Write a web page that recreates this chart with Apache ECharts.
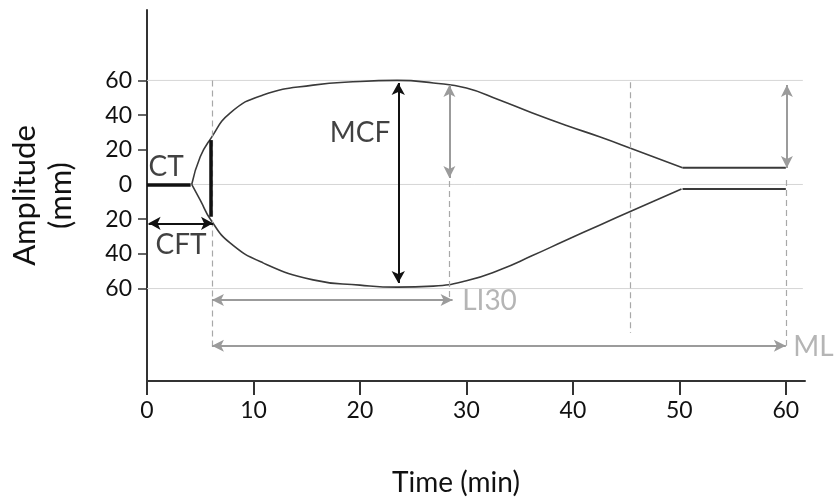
<!DOCTYPE html>
<html>
<head>
<meta charset="utf-8">
<title>Thromboelastogram</title>
<script src="https://cdn.jsdelivr.net/npm/echarts@6/dist/echarts.min.js"></script>
<style>
  html, body { margin: 0; padding: 0; background: #fff; }
  #chart { width: 838px; height: 497px; }
</style>
</head>
<body>
<div id="chart"></div>
<script>
// Axis ticks
const timeTicks = [0, 10, 20, 30, 40, 50, 60];
const ampTicks = [60, 40, 20, 0, -20, -40, -60];
const gridLevels = [60, 0, -60];

// Trace envelope (time in min, amplitude in mm)
const upperTime = [4.2, 5.0, 6.0, 7.8, 10.9, 15.6, 20.0, 23.5, 26.9, 30.0, 33.1, 36.2, 39.4, 42.5, 45.6, 50.3];
const upperAmp  = [0, 16, 26.6, 41.2, 51.6, 57.3, 59.4, 60, 58.5, 55.6, 48.7, 41.2, 34, 27.5, 20.5, 9.7];
const lowerTime = [4.2, 5.0, 6.0, 7.8, 10.9, 15.6, 20.0, 23.5, 26.9, 30.0, 33.1, 36.2, 39.4, 42.5, 45.6, 50.2];
const lowerAmp  = [0, -9, -20.5, -33.7, -45.2, -55, -58, -59.2, -58.6, -55.5, -49.3, -41, -32, -23.5, -15, -2.6];
// Residual clot after lysis
const tailTime = [50.3, 60];
const tailUpper = [9.7, 9.7];
const tailLower = [-2.6, -2.6];

// Key parameters
const ctTime = 4.1;          // reaction time
const cftTime = 6.0;         // clot formation time end
const cftAmp = 20;           // amplitude at which CFT is read
const mcfTime = 23.6;        // time of maximum clot firmness
const mcfUpper = 58.5;
const mcfLower = -56.8;
const li30Time = 28.4;       // 30 min after CT
const li30Amp = 57.3;
const lysisTime = 45.4;
const mlTime = 60;
const mlAmp = 9.5;

const FONT = 'Lato, "Open Sans", sans-serif';
const GREY = '#9b9b9b';
const DARK = '#111';

function pts(xs, ys) { return xs.map((x, i) => [x, ys[i]]); }
function seg(x1, y1, x2, y2) { return [{ coord: [x1, y1] }, { coord: [x2, y2] }]; }

const chart = echarts.init(document.getElementById('chart'), null, { renderer: 'canvas' });

const gridSeries = gridLevels.map(v => ({
  type: 'line', silent: true, symbol: 'none', z: 1,
  lineStyle: { color: '#d6d6d6', width: 1 },
  data: [[0, v], [61.6, v]]
}));

const envelope = (data) => ({
  type: 'line', smooth: 0.5, symbol: 'none', z: 4,
  lineStyle: { color: '#3a3a3a', width: 1.6 },
  data
});

const option = {
  animation: false,
  backgroundColor: '#fff',
  textStyle: { fontFamily: FONT },
  grid: { left: 147, right: 33, top: 10, bottom: 116, containLabel: false, outerBoundsMode: 'none' },
  xAxis: {
    type: 'value', min: 0, max: 61.8,
    name: 'Time (min)', nameLocation: 'middle', nameGap: 88,
    nameTextStyle: { fontSize: 28, color: DARK, fontFamily: FONT, padding: [0, 40, 0, 0] },
    axisLine: { onZero: false, lineStyle: { color: '#333', width: 2 } },
    axisTick: { customValues: timeTicks, length: 14, lineStyle: { color: '#333', width: 2 } },
    axisLabel: { customValues: timeTicks, margin: 18, fontSize: 23, color: DARK, fontFamily: FONT },
    splitLine: { show: false }
  },
  yAxis: {
    type: 'value', min: -113.3, max: 100.6,
    name: 'Amplitude\n(mm)', nameLocation: 'middle', nameGap: 68, nameRotate: 90,
    nameTextStyle: { fontSize: 31, lineHeight: 36, color: DARK, fontFamily: FONT },
    axisLine: { onZero: false, lineStyle: { color: '#333', width: 2 } },
    axisTick: { customValues: ampTicks.filter(v => v !== 0), length: 9, lineStyle: { color: '#333', width: 1.5 } },
    axisLabel: { customValues: ampTicks, margin: 15, fontSize: 23, color: DARK, fontFamily: FONT,
                 formatter: v => String(Math.abs(v)) },
    splitLine: { show: false }
  },
  series: [
    ...gridSeries,
    // dashed guide lines
    {
      type: 'line', data: [], silent: true, z: 2,
      markLine: {
        silent: true, symbol: ['none', 'none'], label: { show: false },
        lineStyle: { color: '#a8a8a8', width: 1.2, type: [6, 4] },
        data: [
          seg(cftTime + 0.1, 60, cftTime + 0.1, -95.4),
          seg(li30Time, 2, li30Time, -66.6),
          seg(lysisTime, 59, lysisTime, -85.6),
          seg(mlTime, 2.6, mlTime, -93)
        ]
      }
    },
    // grey measurement arrows
    {
      type: 'line', data: [], silent: true, z: 3,
      markLine: {
        silent: true, symbol: ['arrow', 'arrow'], symbolSize: [9, 12], label: { show: false },
        lineStyle: { color: GREY, width: 2, type: 'solid' },
        itemStyle: { color: GREY },
        data: [
          seg(li30Time, li30Amp, li30Time, 3.7),
          seg(mlTime + 0.1, li30Amp, mlTime + 0.1, mlAmp),
          seg(cftTime + 0.1, -66.6, li30Time + 0.3, -66.6),
          seg(cftTime + 0.1, -93, mlTime, -93)
        ]
      }
    },
    // black measurement arrows
    {
      type: 'line', data: [], silent: true, z: 5,
      markLine: {
        silent: true, symbol: ['arrow', 'arrow'], symbolSize: [10, 12], label: { show: false },
        lineStyle: { color: DARK, width: 2, type: 'solid' },
        itemStyle: { color: DARK },
        data: [
          seg(mcfTime, mcfUpper, mcfTime, mcfLower),
          seg(0.15, -cftAmp - 2.4, cftTime + 0.2, -cftAmp - 2.4)
        ]
      }
    },
    // CT baseline and CFT marker
    {
      type: 'line', data: [], silent: true, z: 5,
      markLine: {
        silent: true, symbol: ['none', 'none'], label: { show: false },
        lineStyle: { color: DARK, width: 3.5, type: 'solid' },
        data: [
          seg(0, 0, ctTime, 0),
          seg(cftTime, 25.6, cftTime, -18.6)
        ]
      }
    },
    // envelope
    envelope(pts(upperTime, upperAmp)),
    envelope(pts(lowerTime, lowerAmp)),
    {
      type: 'line', symbol: 'none', z: 4,
      lineStyle: { color: '#3a3a3a', width: 2 },
      data: pts(tailTime, tailUpper)
    },
    {
      type: 'line', symbol: 'none', z: 4,
      lineStyle: { color: '#3a3a3a', width: 2 },
      data: pts(tailTime, tailLower)
    },
    // parameter labels
    {
      type: 'scatter', symbolSize: 0, silent: true, z: 6, clip: false,
      label: { show: true, position: 'inside', fontSize: 28, fontFamily: FONT, color: DARK,
               formatter: p => p.name },
      data: [
        { name: 'CT', value: [1.8, 10] },
        { name: 'CFT', value: [3.2, -35] },
        { name: 'MCF', value: [20, 29.7] },
        { name: 'LI30', value: [29.6, -67.2],
          label: { position: 'right', distance: 0, color: '#a3a3a3' } },
        { name: 'ML', value: [60.7, -93.7],
          label: { position: 'right', distance: 0, color: '#a3a3a3' } }
      ]
    }
  ]
};

chart.setOption(option);
</script>
</body>
</html>
